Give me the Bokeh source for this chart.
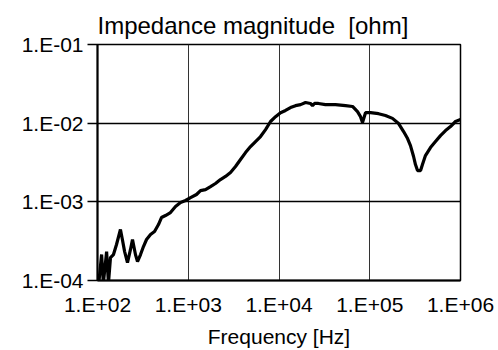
from bokeh.plotting import figure
from bokeh.models import Range1d, CustomJSTickFormatter, FixedTicker
from bokeh.embed import file_html
from bokeh.resources import INLINE

freq_hz = [103, 111, 116, 126, 132, 139, 150, 162, 179, 188, 199, 214, 231, 243, 262, 276,
           298, 321, 347, 384, 425, 470, 507, 561, 637, 724, 822, 934, 1060, 1233, 1365,
           1550, 1760, 1996, 2266, 2573, 2922, 3317, 3767, 4277, 4856, 5513, 6260, 7108,
           8070, 9163, 10400, 11800, 13400, 15200, 17300, 19600, 22200, 23400, 24600,
           27200, 32500, 41900, 54100, 64600, 73300, 79100, 83200, 89800, 102000, 125000,
           149000, 178000, 208000, 236000, 261000, 281000, 304000, 319000, 336000, 363000,
           381000, 411000, 467000, 530000, 602000, 684000, 776000, 881000, 1000000]
impedance_ohm = [8.9e-5, 2.14e-4, 9.2e-5, 2.33e-4, 9.2e-5, 1.96e-4, 2.14e-4, 2.87e-4, 4.45e-4,
                 3.32e-4, 2.33e-4, 1.69e-4, 2.48e-4, 3.32e-4, 2.14e-4, 1.74e-4, 2.14e-4,
                 2.70e-4, 3.32e-4, 3.84e-4, 4.19e-4, 5.15e-4, 6.32e-4, 6.70e-4, 7.31e-4,
                 8.71e-4, 9.80e-4, 1.04e-3, 1.13e-3, 1.24e-3, 1.39e-3, 1.43e-3, 1.56e-3,
                 1.71e-3, 1.92e-3, 2.10e-3, 2.36e-3, 2.81e-3, 3.45e-3, 4.23e-3, 5.04e-3,
                 5.84e-3, 6.76e-3, 8.29e-3, 1.05e-2, 1.21e-2, 1.36e-2, 1.45e-2, 1.58e-2,
                 1.67e-2, 1.72e-2, 1.83e-2, 1.78e-2, 1.67e-2, 1.78e-2, 1.78e-2, 1.72e-2,
                 1.72e-2, 1.67e-2, 1.63e-2, 1.40e-2, 1.21e-2, 1.02e-2, 1.36e-2, 1.36e-2,
                 1.32e-2, 1.25e-2, 1.15e-2, 9.89e-3, 7.82e-3, 6.37e-3, 5.19e-3, 3.77e-3,
                 2.98e-3, 2.50e-3, 2.50e-3, 2.98e-3, 3.87e-3, 4.90e-3, 5.84e-3, 6.95e-3,
                 8.05e-3, 9.06e-3, 1.05e-2, 1.11e-2]
x_ticks = [1e2, 1e3, 1e4, 1e5, 1e6]
y_ticks = [1e-4, 1e-3, 1e-2, 1e-1]

FONT = "Liberation Sans"

p = figure(width=498, height=350, x_axis_type="log", y_axis_type="log",
           x_range=Range1d(1e2, 1e6), y_range=Range1d(1e-4, 1e-1),
           output_backend="svg", toolbar_location=None,
           min_border_left=97, min_border_right=38, min_border_top=44, min_border_bottom=69)

p.title.text = "Impedance magnitude \u00a0[ohm]"
p.title.align = "left"
p.title.text_font = FONT
p.title.text_font_size = "24px"
p.title.text_font_style = "normal"
p.title.text_color = "black"
p.title.standoff = 12

p.line(freq_hz, impedance_ohm, line_color="black", line_width=3.2)

fmt = CustomJSTickFormatter(code="""
const e = Math.round(Math.log10(tick));
const s = e < 0 ? "-" : "+";
return "1.E" + s + String(Math.abs(e)).padStart(2, "0");
""")

for ax, ticks in ((p.xaxis[0], x_ticks), (p.yaxis[0], y_ticks)):
    ax.ticker = FixedTicker(ticks=ticks, minor_ticks=[])
    ax.formatter = fmt
    ax.major_label_text_font = FONT
    ax.major_label_text_font_size = "21px"
    ax.major_label_text_color = "black"
    ax.axis_line_color = "black"
    ax.axis_line_width = 2
    ax.major_tick_line_color = "black"
    ax.major_tick_line_width = 1.5
    ax.minor_tick_line_color = None

p.yaxis.major_tick_out = 10
p.yaxis.major_tick_in = 0
p.yaxis.major_label_standoff = 4
p.xaxis.major_tick_out = 0
p.xaxis.major_tick_in = 0
p.xaxis.major_label_standoff = 12

p.xaxis.axis_label = "Frequency [Hz]"
p.xaxis.axis_label_text_font = FONT
p.xaxis.axis_label_text_font_size = "21px"
p.xaxis.axis_label_text_font_style = "normal"
p.xaxis.axis_label_text_color = "black"
p.xaxis.axis_label_standoff = 6

p.xgrid.grid_line_color = "#333333"
p.xgrid.grid_line_width = 1
p.ygrid.grid_line_color = "black"
p.ygrid.grid_line_width = 1.5

p.outline_line_color = "black"
p.outline_line_width = 1.5
p.outline_line_alpha = 1
p.background_fill_color = "white"
p.border_fill_color = "white"

open("out.html", "w").write(file_html(p, INLINE))
